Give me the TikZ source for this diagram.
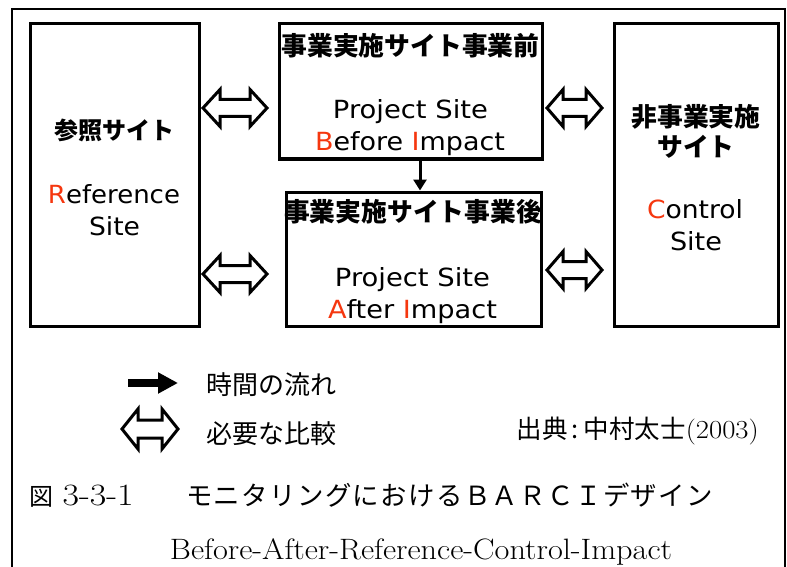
\documentclass[tikz,border=0pt]{standalone}
\usepackage{fontspec}
\usepackage{graphicx}
\usetikzlibrary{arrows.meta}
\newfontfamily\jp{Noto Sans CJK JP}
\newfontfamily\jpcap{Noto Sans CJK JP}[LetterSpace=5.3]
\newfontfamily\lat{DejaVu Sans}
\definecolor{hl}{RGB}{245,55,15}
\newcommand\hr[1]{\textcolor{hl}{#1}}
\newcommand\fitw[2]{\resizebox{#1pt}{\height}{#2}}
\newcommand\dblarrow[7]{%
  \coordinate (#1) at (#2,#3);
  \draw[dblshape, shift={(#2,#3)}] (-#4,0) -- (-#4+#7,-#5) -- (-#4+#7,-#6) -- (#4-#7,-#6) -- (#4-#7,-#5) -- (#4,0) -- (#4-#7,#5) -- (#4-#7,#6) -- (-#4+#7,#6) -- (-#4+#7,#5) -- cycle;}
\tikzset{
  sitebox/.style={draw, line width=3pt, inner sep=0pt, minimum width=#1},
  jpb/.style={font=\jp\bfseries\fontsize{25.8}{30}\selectfont, inner sep=0pt},
  jpr/.style={font=\jp\fontsize{26}{30}\selectfont, inner sep=0pt},
  en/.style={font=\lat\fontsize{25}{30}\selectfont, inner sep=0pt, anchor=base},
  dblshape/.style={draw, fill=white, line width=3pt, line join=miter},
}
\begin{document}
\begin{tikzpicture}[x=1pt,y=-1pt]
\useasboundingbox (0,0) rectangle (787,567);
% outer frame
\draw[line width=1.8pt] (12,600) -- (12,9) -- (785,9) -- (785,600);
% boxes
\node[sitebox=169, minimum height=302] (ref) at (114.5,175) {};
\node[sitebox=263, minimum height=135] (pb) at (410.5,91.5) {};
\node[sitebox=255, minimum height=134] (pa) at (413.5,259) {};
\node[sitebox=164, minimum height=302] (ctl) at (696,175) {};
% texts
\node[jpb, font=\jp\bfseries\fontsize{24}{30}\selectfont] (t1) at (114.5,130) {参照サイト};
\node[en] (t2) at (114,203) {\fitw{132}{\hr{R}eference}};
\node[en] (t3) at (114.5,235) {\fitw{51}{Site}};
\node[jpb] (t4) at (410.5,46) {事業実施サイト事業前};
\node[en] (t5) at (410.5,119) {\fitw{155}{Project Site}};
\node[en] (t6) at (410,150) {\fitw{190}{\hr{B}efore \hr{I}mpact}};
\node[jpb] (t7) at (413,212) {事業実施サイト事業後};
\node[en] (t8) at (412.5,286) {\fitw{155}{Project Site}};
\node[en] (t9) at (412.5,318) {\fitw{169}{\hr{A}fter \hr{I}mpact}};
\node[jpb] (t10) at (696,117) {非事業実施};
\node[jpb] (t11) at (696,147) {サイト};
\node[en] (t12) at (695,218) {\fitw{96}{\hr{C}ontrol}};
\node[en] (t13) at (696,250) {\fitw{52}{Site}};
% comparison arrows
\dblarrow{c1}{235}{108}{32}{18.5}{8.5}{17}
\dblarrow{c2}{235}{274}{32}{18.5}{8.5}{17}
\dblarrow{c3}{574.5}{108}{27.5}{18.5}{8.5}{16}
\dblarrow{c4}{574.5}{270}{27.5}{18.5}{8.5}{16}
% time arrow
\coordinate (dx) at (420,0);
\draw[line width=3pt, -{Triangle[length=11pt,width=13pt]}] (pb.south -| dx) -- (pa.north -| dx);
% legend
\coordinate (la) at (128,383);
\coordinate (lb) at (178,383);
\draw[line width=8pt, -{Triangle[length=20pt,width=20pt]}] (la) -- (lb);
\node[jpr, anchor=west] (l1) at (206,385) {時間の流れ};
\dblarrow{c5}{150}{429}{28}{20}{9}{16}
\node[jpr, anchor=west] (l2) at (206,434) {必要な比較};
\node[inner sep=0pt, anchor=base east] (src) at (759,438) {\jp\fontsize{25.5}{30}\selectfont 出典\hspace{4pt}:\hspace{5pt}中村太士\rmfamily\fontsize{26}{30}\selectfont\fitw{73}{(2003)}};
% caption
\node[inner sep=0pt, anchor=base west] (cap1) at (29,505) {\jp\fontsize{24}{30}\selectfont 図\rmfamily\fontsize{31}{30}\selectfont\ \fitw{71}{3-3-1}};
\node[inner sep=0pt, anchor=base west] (cap2) at (186,505) {\jpcap\fontsize{26.4}{30}\selectfont モニタリングにおけるＢＡＲＣＩデザイン};
\node[inner sep=0pt, anchor=base] (cap3) at (421,559) {\fontsize{29.5}{30}\selectfont\fitw{502}{Before-After-Reference-Control-Impact}};
\end{tikzpicture}
\end{document}
